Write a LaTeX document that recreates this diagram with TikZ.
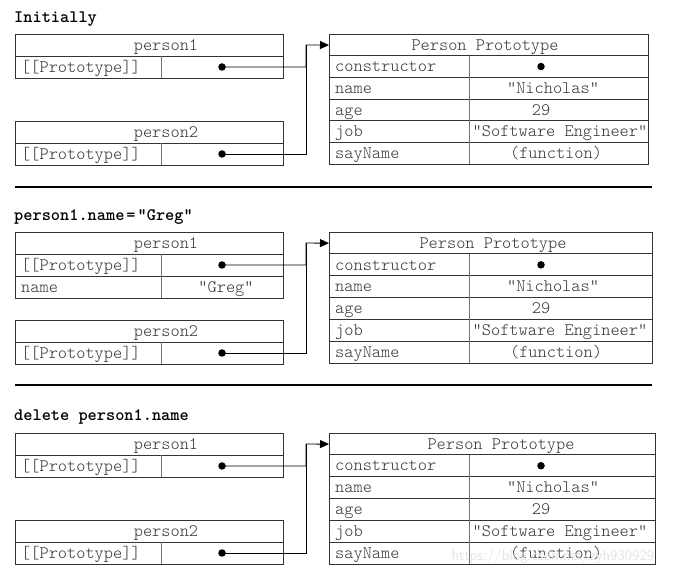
\documentclass[tikz,border=0pt]{standalone}
\usetikzlibrary{arrows.meta}
\tikzset{
  obj/.style={draw=black!80, line width=0.9pt, inner sep=0pt, rectangle},
  cellh/.style={inner sep=0pt, rectangle},
  rowline/.style={draw=black!80, line width=0.9pt},
  divline/.style={draw=black!55, line width=0.9pt},
  txt/.style={inner sep=0pt, text height=12pt, text depth=1.5pt, text=black!80, font=\ttfamily\fontseries{l}\fontsize{17.5}{20}\selectfont},
  ttl/.style={inner sep=0pt, text height=12pt, text depth=1.5pt, anchor=west, text=black, font=\ttfamily\fontseries{b}\fontsize{17.5}{20}\selectfont},
  dotc/.style={circle, fill=black, inner sep=0pt, minimum size=7.5pt},
  conn/.style={draw=black, line width=0.9pt, line join=miter},
  arr/.style={conn, -{Triangle[length=9pt,width=8pt]}},
  sepline/.style={draw=black, line width=2.2pt}
}
\newcommand\PersonBox[3]{%
  \node[obj, minimum width=268pt, minimum height=44pt, anchor=north west] (#1) at (15,#3) {};
  \draw[rowline] (15,{#3+22}) -- (283,{#3+22});
  \draw[divline] (161,{#3+22}) -- (161,{#3+44});
  \node[txt] (#1lbl) at (166,{#3+11}) {#2};
  \node[txt, anchor=west] (#1key) at (21,{#3+33}) {[[Prototype]]};
  \node[dotc] (#1dot) at (222,{#3+33}) {};
}
\newcommand\ProtoBox[5]{% prefix, top, right, row height, header text x
  \node[obj, minimum width={#3-329}, minimum height={6*#4}, anchor=north west] (#1box) at (329,#2) {};
  \node[cellh, minimum width={#3-329}, minimum height={#4}, anchor=north west] (#1head) at (329,#2) {};
  \foreach \i in {1,...,5} {\draw[rowline] (329,{#2+\i*#4}) -- (#3,{#2+\i*#4});}
  \draw[divline] (469,{#2+#4}) -- (469,{#2+6*#4});
  \node[txt] (#1title) at (#5,{#2+0.5*#4}) {Person Prototype};
  \node[txt, anchor=west] (#1k1) at (335,{#2+1.5*#4}) {constructor};
  \node[txt, anchor=west] (#1k2) at (335,{#2+2.5*#4}) {name};
  \node[txt, anchor=west] (#1k3) at (335,{#2+3.5*#4}) {age};
  \node[txt, anchor=west] (#1k4) at (335,{#2+4.5*#4}) {job};
  \node[txt, anchor=west] (#1k5) at (335,{#2+5.5*#4}) {sayName};
  \node[dotc] (#1v1) at (541,{#2+1.5*#4}) {};
  \node[txt] (#1v2) at (553,{#2+2.5*#4}) {"Nicholas"};
  \node[txt] (#1v3) at (541,{#2+3.5*#4}) {29};
  \node[txt] (#1v4) at (560,{#2+4.5*#4}) {"Software Engineer"};
  \node[txt] (#1v5) at (556,{#2+5.5*#4}) {(function)};
}
\begin{document}
\begin{tikzpicture}[x=1pt,y=-1pt]
\useasboundingbox (0,0) rectangle (673,577);
\fill[white] (0,0) rectangle (673,577);

% ---------- Section 1 ----------
\node[ttl] (t1) at (14,17) {Initially};
\PersonBox{aone}{person1}{34}
\PersonBox{atwo}{person2}{121}
\ProtoBox{apr}{34}{648}{21.7}{485}
\coordinate (aj) at (306,45);
\draw[arr] (aonedot.center) -| (aj) -- (aprhead.west);
\draw[conn] (atwodot.center) -| (aj);
\draw[sepline] (15,187) -- (652,187);

% ---------- Section 2 ----------
\node[ttl] (t2) at (14,215) {person1.name\kern2pt=\kern2pt"Greg"};
\node[obj, minimum width=268pt, minimum height=66pt, anchor=north west] (bone) at (15,232) {};
\draw[rowline] (15,254) -- (283,254);
\draw[rowline] (15,276) -- (283,276);
\draw[divline] (161,254) -- (161,298);
\node[txt] (bonelbl) at (166,243) {person1};
\node[txt, anchor=west] (bonekey) at (21,265) {[[Prototype]]};
\node[dotc] (bonedot) at (222,265) {};
\node[txt, anchor=west] (bonename) at (21,287) {name};
\node[txt] (bonegreg) at (226,287) {"Greg"};
\PersonBox{btwo}{person2}{320}
\ProtoBox{bpr}{232}{652}{21.9}{493}
\coordinate (bj) at (306,243);
\draw[arr] (bonedot.center) -| (bj) -- (bprhead.west);
\draw[conn] (btwodot.center) -| (bj);
\draw[sepline] (15,385) -- (652,385);

% ---------- Section 3 ----------
\node[ttl] (t3) at (14,415) {delete person1.name};
\PersonBox{cone}{person1}{433}
\PersonBox{ctwo}{person2}{520}
\ProtoBox{cpr}{433}{655}{21.83}{501}
\coordinate (cj) at (306,444);
\draw[arr] (conedot.center) -| (cj) -- (cprhead.west);
\draw[conn] (ctwodot.center) -| (cj);

% watermark
\node[inner sep=0pt, text=black!11, font=\sffamily\fontsize{15}{17}\selectfont] (wm) at (553,557) {https://blog.csdn.net/zyh930929};
\end{tikzpicture}
\end{document}
